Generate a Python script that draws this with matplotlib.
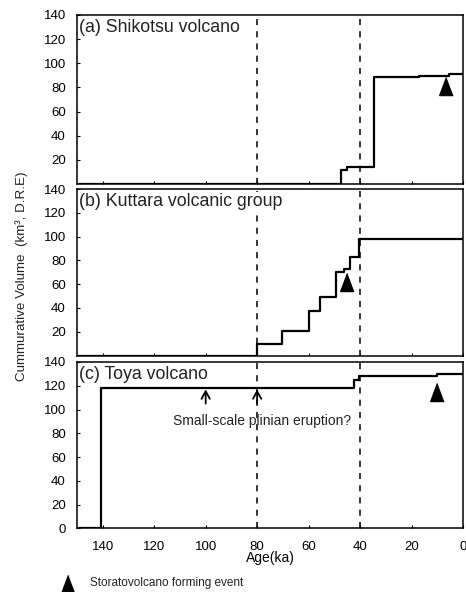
import matplotlib
matplotlib.use("Agg")
import matplotlib.pyplot as plt
from matplotlib.lines import Line2D

plt.rcParams['font.family'] = ['Liberation Sans', 'DejaVu Sans']

# ---- data ----
titles = ["(a) Shikotsu volcano", "(b) Kuttara volcanic group", "(c) Toya volcano"]

age_a = [150, 47.6, 45, 34.7, 17, 5.4, 0]
vol_a = [0, 12, 14, 88.5, 89.5, 91, 91]

age_b = [150, 80, 70.4, 60, 55.4, 49.2, 46.3, 43.8, 40.4, 0]
vol_b = [0, 10, 21, 37, 49, 70, 73, 83, 98, 98]

age_c = [150, 140.5, 42.3, 40.5, 10, 0]
vol_c = [0, 118.5, 125, 128, 130, 130]

tri_age = [6.5, 45, 10]
tri_vol = [81, 62, 115]

arrow_ages = [100, 80]
divider_ages = [80, 40]

xticks = [140, 120, 100, 80, 60, 40, 20, 0]
yticks_ab = [20, 40, 60, 80, 100, 120, 140]
yticks_c = [0, 20, 40, 60, 80, 100, 120, 140]

W, H = 466, 592
fig = plt.figure(figsize=(W / 100, H / 100), dpi=100)

def rect(top_px, bot_px, left_px=77, right_px=463):
    return [left_px / W, 1 - bot_px / H, (right_px - left_px) / W, (bot_px - top_px) / H]

axes = [fig.add_axes(rect(15, 184)),
        fig.add_axes(rect(189, 355.5)),
        fig.add_axes(rect(362, 528.3))]

tri = [(0, 1), (-0.75, -1), (0.75, -1)]

series = [(age_a, vol_a), (age_b, vol_b), (age_c, vol_c)]
for i, ax in enumerate(axes):
    ages, vols = series[i]
    for d in divider_ages:
        ax.axvline(d, color='black', lw=1.1, ls=(0, (4, 4)), zorder=1)
    ax.plot(ages, vols, drawstyle='steps-post', color='black', lw=1.6, zorder=3)
    ax.plot([tri_age[i]], [tri_vol[i]], marker=tri, color='black', ms=13, ls='none', zorder=4)
    ax.set_xlim(150, 1.5)
    ax.set_ylim(0, 140)
    ax.text(0.006, 0.975, titles[i], transform=ax.transAxes, va='top', ha='left',
            fontsize=12.8, color='#222222', zorder=5,
            bbox=dict(facecolor='white', edgecolor='none', pad=0.5))
    for s in ax.spines.values():
        s.set_linewidth(1.1)
    ax.tick_params(direction='in', length=2.5, width=0.8, labelsize=9.5)
    ax.tick_params(axis='y', pad=8)
    ax.tick_params(axis='x', pad=9)
    ax.set_xticks(xticks)
    if i < 2:
        ax.set_yticks(yticks_ab)
        ax.tick_params(axis='x', labelbottom=False)
    else:
        ax.set_yticks(yticks_c)
        ax.set_xlabel("Age(ka)", fontsize=10, labelpad=-1)

axc = axes[2]
for a in arrow_ages:
    axc.annotate("", xy=(a, 117), xytext=(a, 105),
                 arrowprops=dict(arrowstyle='->,head_width=0.3,head_length=0.55',
                                 color='black', lw=1.3, shrinkA=0, shrinkB=0))
axc.text(78, 90, "Small-scale plinian eruption?", ha='center', va='center', fontsize=10,
         color='#222222')

fig.text(22 / W, 1 - 276 / H, "Cummurative Volume  (km³, D.R.E)", rotation=90,
         ha='center', va='center', fontsize=9.6, color='#222222')

# legend for the triangle marker
fig.add_artist(Line2D([68 / W], [1 - 586 / H], marker=tri, color='black', ms=16,
                      ls='none', transform=fig.transFigure))
fig.text(90 / W, 1 - 583 / H, "Storatovolcano forming event", ha='left', va='center',
         fontsize=8.5, color='#222222')

fig.savefig("out.png", dpi=100)
